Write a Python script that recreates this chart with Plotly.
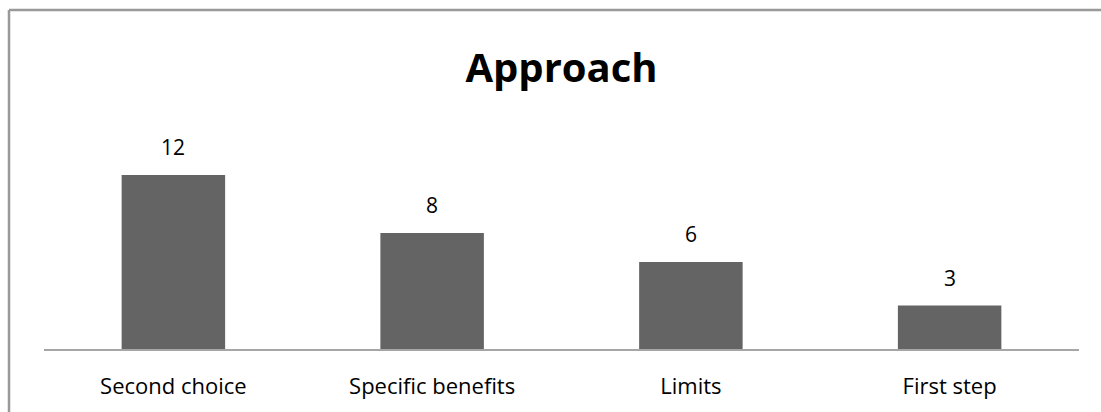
import plotly.graph_objects as go

categories = ["Second choice", "Specific benefits", "Limits", "First step"]
values = [12, 8, 6, 3]
title_text = "Approach"

W, H = 1101, 412
L, R, T, B = 44, 22, 146, 63
plot_w = W - L - R
plot_h = H - T - B

fig = go.Figure()
fig.add_trace(go.Bar(
    x=categories, y=values,
    marker=dict(color="#646464", line=dict(width=0)),
    width=0.40,
    hoverinfo="skip",
))

for c, v in zip(categories, values):
    fig.add_annotation(x=c, y=v, text=str(v), showarrow=False,
                       yanchor="bottom", yshift=12,
                       font=dict(family="Open Sans", size=21, color="#000"))

def px_to_paper_x(px):
    return (px - L) / plot_w

def px_to_paper_y(py):
    return (H - B - py) / plot_h

# chart frame (left and top edges visible)
fig.add_shape(type="line", xref="paper", yref="paper",
              x0=px_to_paper_x(9), x1=px_to_paper_x(1120),
              y0=px_to_paper_y(10), y1=px_to_paper_y(10),
              line=dict(color="#999999", width=2.5))
fig.add_shape(type="line", xref="paper", yref="paper",
              x0=px_to_paper_x(9), x1=px_to_paper_x(9),
              y0=px_to_paper_y(10), y1=px_to_paper_y(430),
              line=dict(color="#999999", width=2.5))

fig.update_layout(
    width=W, height=H,
    margin=dict(l=L, r=R, t=T, b=B, autoexpand=False),
    paper_bgcolor="white", plot_bgcolor="white",
    showlegend=False,
    bargap=0.6,
    title=dict(text="<b>" + title_text + "</b>", x=0.5, xref="paper", xanchor="center",
               y=1 - 68 / H, yref="container", yanchor="middle",
               font=dict(family="Open Sans", size=40, color="#000")),
    xaxis=dict(showline=True, linecolor="#a6a6a6", linewidth=2, automargin=False,
               showgrid=False, zeroline=False, ticks="", ticklabelstandoff=17,
               tickfont=dict(family="Open Sans", size=22, color="#000")),
    yaxis=dict(range=[0, 14], visible=False, showgrid=False, zeroline=False, automargin=False),
)

fig.write_html("out.html")
